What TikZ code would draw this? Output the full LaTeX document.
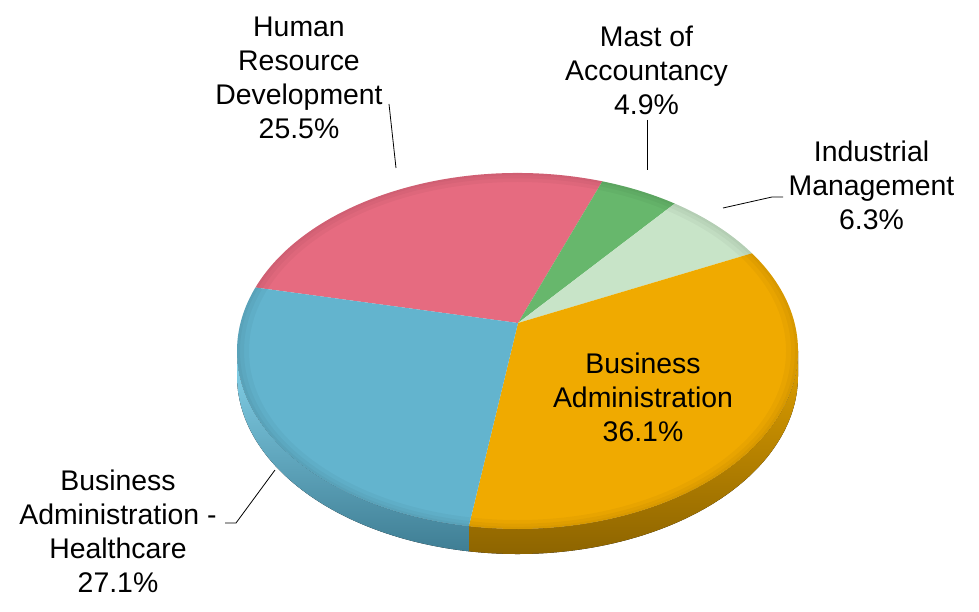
\documentclass[tikz,border=0pt]{standalone}
\usepackage{fontspec}
\setmainfont{Liberation Sans}
\usetikzlibrary{calc}
\definecolor{pinkc}{HTML}{E66B80}
\definecolor{greenc}{HTML}{67B76C}
\definecolor{lgreenc}{HTML}{C8E4C8}
\definecolor{orangec}{HTML}{F0AA00}
\definecolor{bluec}{HTML}{63B4CE}
\definecolor{bluesideT}{HTML}{86D4EC}
\definecolor{bluesideB}{HTML}{3F7E94}
\definecolor{orsideT}{HTML}{E0A000}
\definecolor{orsideB}{HTML}{8A6200}
\tikzset{
  lbl/.style={align=center, inner sep=0pt, font=\fontsize{28.4}{34}\selectfont, text=black},
  leader/.style={draw=black, line width=0.8pt},
  rad/.style={x radius=280.5, y radius=178},
  bevel/.style={black, opacity=0.03, even odd rule},
}
\begin{document}
\begin{tikzpicture}[x=1pt,y=-1pt]
\useasboundingbox (0,0) rectangle (979,612);
\coordinate (c) at (517.5,351);
\coordinate (p) at (518,323);
% sides
\fill[top color=orsideT, bottom color=orsideB] ($(c)+(0:280.5 and 178)$) arc[start angle=0,end angle=100,rad] -- ++(0,25) arc[start angle=100,end angle=0,rad] -- cycle;
\fill[top color=bluesideT, bottom color=bluesideB] ($(c)+(100:280.5 and 178)$) arc[start angle=100,end angle=180,rad] -- ++(0,25) arc[start angle=180,end angle=100,rad] -- cycle;
% top slices
\fill[pinkc] (p) -- ($(c)+(-159.1:280.5 and 178)$) arc[start angle=-159.1,end angle=-72.4,rad] -- cycle;
\fill[greenc] (p) -- ($(c)+(-72.4:280.5 and 178)$) arc[start angle=-72.4,end angle=-55.9,rad] -- cycle;
\fill[lgreenc] (p) -- ($(c)+(-55.9:280.5 and 178)$) arc[start angle=-55.9,end angle=-33.3,rad] -- cycle;
\fill[orangec] (p) -- ($(c)+(-33.3:280.5 and 178)$) arc[start angle=-33.3,end angle=100,rad] -- cycle;
\fill[bluec] (p) -- ($(c)+(100:280.5 and 178)$) arc[start angle=100,end angle=200.9,rad] -- cycle;
% soft bevel shade near rim
\fill[bevel] (c) ellipse[x radius=280.5,y radius=178] (c) ellipse[x radius=268.5,y radius=169];
\fill[bevel] (c) ellipse[x radius=280.5,y radius=178] (c) ellipse[x radius=273.5,y radius=172.7];
\fill[bevel] (c) ellipse[x radius=280.5,y radius=178] (c) ellipse[x radius=277.5,y radius=175.8];
% labels
\node[lbl] (hrd) at (299,77.5) {Human\\Resource\\Development\\25.5\%};
\node[lbl] (mast) at (646.5,70) {Mast of\\Accountancy\\4.9\%};
\node[lbl] (ind) at (871.5,185) {Industrial\\Management\\6.3\%};
\node[lbl] (ba) at (643,397) {Business\\Administration\\36.1\%};
\node[lbl] (bah) at (118,531) {Business\\Administration -\\Healthcare\\27.1\%};
% leaders
\coordinate (hrdA) at (389,104); \coordinate (hrdB) at (396,168);
\coordinate (mastA) at (647,120); \coordinate (mastB) at (647,170);
\coordinate (indA) at (783,197); \coordinate (indK) at (772,197); \coordinate (indB) at (723,208);
\coordinate (bahA) at (225,523); \coordinate (bahK) at (236,523); \coordinate (bahB) at (275,470);
\draw[leader] (hrdA) -- (hrdB);
\draw[leader] (mastA) -- (mastB);
\draw[leader] (indA) -- (indK) -- (indB);
\draw[leader] (bahA) -- (bahK) -- (bahB);
\end{tikzpicture}
\end{document}
